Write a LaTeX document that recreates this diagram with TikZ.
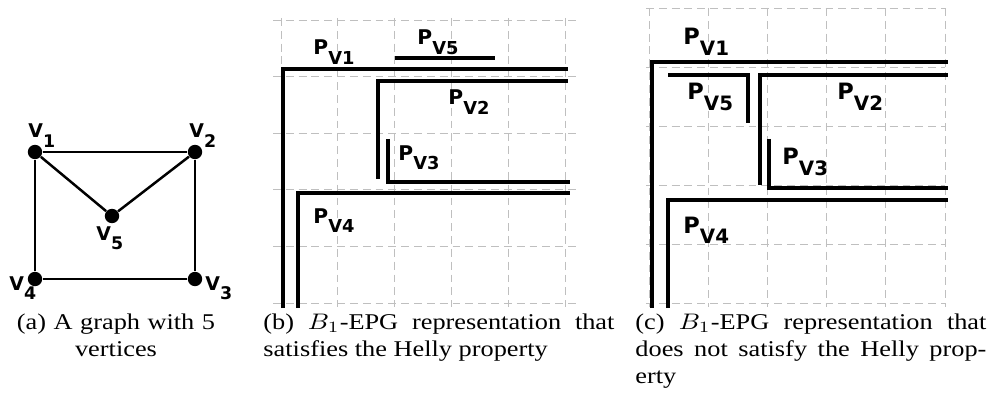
\documentclass[tikz,border=0pt]{standalone}
\usepackage{fontspec}
\setmainfont{Liberation Serif}
\newfontfamily\captfont{Liberation Serif}[FakeStretch=1.17]
\newfontfamily\lblfont{DejaVu Sans}
\usepackage{tikz}
\usetikzlibrary{positioning}

\newcommand{\pv}[1]{P\raisebox{-0.48em}{\scalebox{0.88}{V#1}}}
\newcommand{\vv}[1]{V\raisebox{-0.5em}{\scalebox{0.92}{#1}}}
\newcommand{\bone}{\scalebox{1.17}[1]{$B_1$}}

\begin{document}
\begin{tikzpicture}[
		x=0.4444pt, y=-0.4444pt,
		every node/.style={inner sep=0pt},
		vertex/.style={circle, fill, minimum size=6.4pt},
		edge/.style={line width=1.1pt},
		vlabel/.style={anchor=base west, font=\lblfont\bfseries\fontsize{8.4}{9}\selectfont},
		gridline/.style={dash pattern=on 3.5pt off 2.2pt, line width=0.4pt, black!25},
		interval/.style={line width=1.8pt, line join=miter},
		plabel/.style={anchor=base west, font=\lblfont\bfseries\fontsize{9}{10}\selectfont},
		capt/.style={anchor=north west, text width=156pt, align=justify, font=\captfont\fontsize{10}{12}\selectfont}
		]
		\useasboundingbox (0,0) rectangle (990,417);
		
		% (a) the graph
		\node[vertex] (v1) at (35,152) {};
		\node[vertex] (v2) at (195,152) {};
		\node[vertex] (v3) at (195,279) {};
		\node[vertex] (v4) at (35,279) {};
		\node[vertex] (v5) at (112,216) {};
		\draw[edge] (v1) -- (v2) -- (v3) -- (v4) -- (v1);
		\draw[edge] (v1) -- (v5) -- (v2);
		
		\node[vlabel] (l1) at (28,138) {\vv{1}};
		\node[vlabel] (l2) at (189,138) {\vv{2}};
		\node[vlabel] (l3) at (205,290) {\vv{3}};
		\node[vlabel] (l4) at (9,290) {\vv{4}};
		\node[vlabel] (l5) at (96,240) {\vv{5}};
		
		% (b) Helly representation
		\foreach \i in {0,...,5} {
			\draw[gridline] (281+56.8*\i,18) -- (281+56.8*\i,307);
			\draw[gridline] (273,20+56.6*\i) -- (577,20+56.6*\i);
		}
		\draw[interval] (283,308) -- (283,69) -- (568,69);
		\draw[interval] (395,58) -- (495,58);
		\draw[interval] (378,179) -- (378,81) -- (568,81);
		\draw[interval] (388,139) -- (388,182) -- (570,182);
		\draw[interval] (298,308) -- (298,193) -- (570,193);
		
		\node[plabel] (b1) at (313,55) {\pv{1}};
		\node[plabel] (b5) at (417,45) {\pv{5}};
		\node[plabel] (b2) at (448,105) {\pv{2}};
		\node[plabel] (b3) at (398,160) {\pv{3}};
		\node[plabel] (b4) at (313,223) {\pv{4}};
		
		% (c) non-Helly representation
		\foreach \i in {0,...,5} {
			\draw[gridline] (649+59.2*\i,8) -- (649+59.2*\i,307);
			\draw[gridline] (646,8.3+59*\i) -- (945,8.3+59*\i);
		}
		\draw[interval, line width=2pt] (652,308) -- (652,62) -- (948,62);
		\draw[interval, line width=2pt] (668,75) -- (748,75) -- (748,123);
		\draw[interval, line width=2pt] (760,185) -- (760,75) -- (948,75);
		\draw[interval, line width=2pt] (769,139) -- (769,188) -- (948,188);
		\draw[interval, line width=2pt] (668,308) -- (668,200) -- (948,200);
		
		\node[plabel, font=\lblfont\bfseries\fontsize{10}{11}\selectfont] (c1) at (683,45) {\pv{1}};
		\node[plabel, font=\lblfont\bfseries\fontsize{10}{11}\selectfont] (c5) at (687,100) {\pv{5}};
		\node[plabel, font=\lblfont\bfseries\fontsize{10}{11}\selectfont] (c2) at (837,100) {\pv{2}};
		\node[plabel, font=\lblfont\bfseries\fontsize{10}{11}\selectfont] (c3) at (782,165) {\pv{3}};
		\node[plabel, font=\lblfont\bfseries\fontsize{10}{11}\selectfont] (c4) at (683,233) {\pv{4}};
		
		% captions
		\node[capt, text width=110pt, align=center, anchor=north] (capa) at (116,313) {(a) A graph with 5\\vertices};
		\node[capt] (capb) at (263,313) {(b) \bone-EPG representation that\linebreak satisfies the Helly property};
		\node[capt] (capc) at (635,313) {(c) \bone-EPG representation that\linebreak does not satisfy the Helly prop-\linebreak erty};
		
	\end{tikzpicture}
\end{document}
